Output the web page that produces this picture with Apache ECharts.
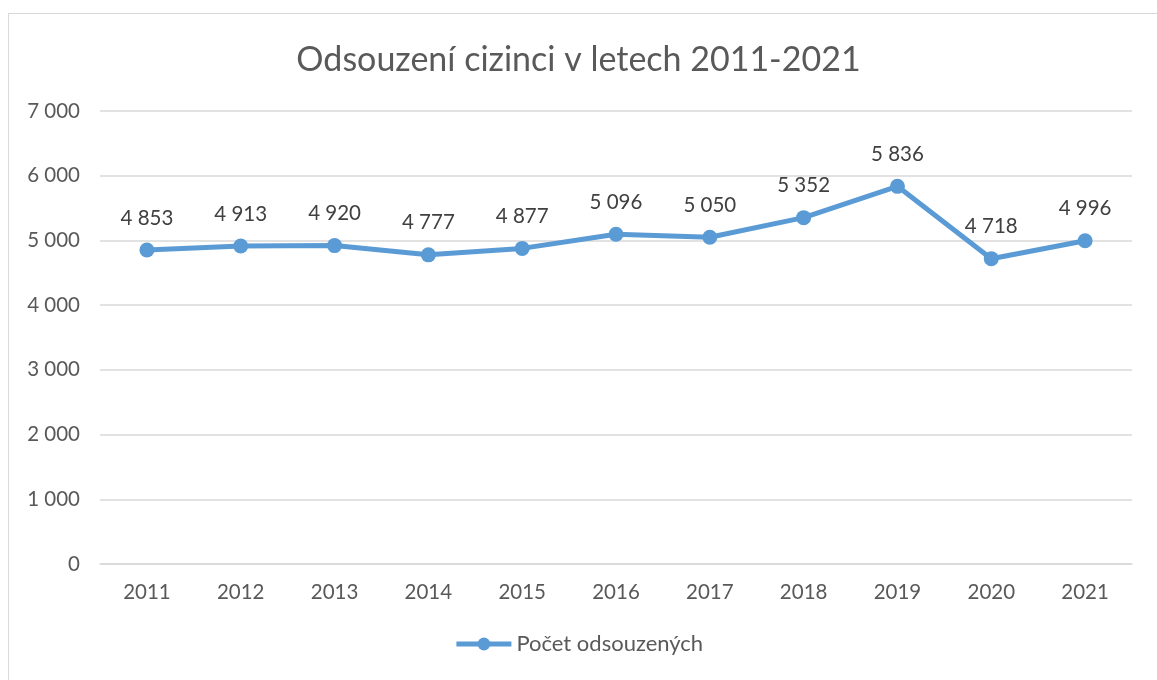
<!DOCTYPE html>
<html lang="cs">
<head>
    <meta charset="UTF-8">
    <title>Odsouzení cizinci</title>
    <style>
        *{
            margin: 0;
            padding: 0;
        }
        body{
            background: #FFFFFF;
        }
        #frame{
            position: absolute;
            left: 8px;
            top: 13px;
            width: 1200px;
            height: 720px;
            border: 1px solid #D9D9D9;
        }
        #main{
            position: absolute;
            left: 0;
            top: 0;
            width: 1157px;
            height: 680px;
        }
    </style>
</head>
<body>
<div id="frame"></div>
<div id="main"></div>

<script src="https://cdn.jsdelivr.net/npm/echarts@6/dist/echarts.min.js"></script>
<script>
    const years = ['2011', '2012', '2013', '2014', '2015', '2016', '2017', '2018', '2019', '2020', '2021'];
    const convicted = [4853, 4913, 4920, 4777, 4877, 5096, 5050, 5352, 5836, 4718, 4996];
    const seriesName = 'Počet odsouzených';

    // mezera jako oddělovač tisíců
    function fmt(v){
        return String(v).replace(/\B(?=(\d{3})+(?!\d))/g, ' ');
    }

    let myChart = echarts.init(document.getElementById('main'));
    myChart.setOption({
        animation: false,
        textStyle: {
            fontFamily: 'Lato, "Open Sans", sans-serif'
        },
        title: {
            text: 'Odsouzení cizinci v letech 2011-2021',
            left: 'center',
            top: 38,
            textStyle: {
                fontSize: 34,
                fontWeight: 'normal',
                color: '#595959'
            }
        },
        legend: {
            data: [seriesName],
            bottom: 20,
            left: 'center',
            itemWidth: 55,
            itemHeight: 16,
            itemGap: 4,
            lineStyle: {width: 5},
            textStyle: {
                fontSize: 22,
                color: '#595959'
            }
        },
        grid: {
            left: 100,
            right: 25,
            top: 111,
            bottom: 116
        },
        xAxis: {
            type: 'category',
            data: years,
            boundaryGap: true,
            axisLine: {
                lineStyle: {color: '#D9D9D9', width: 1.5}
            },
            axisTick: {show: false},
            axisLabel: {
                fontSize: 20.5,
                color: '#595959',
                margin: 18
            }
        },
        yAxis: {
            type: 'value',
            min: 0,
            max: 7000,
            interval: 1000,
            axisLine: {show: false},
            axisTick: {show: false},
            axisLabel: {
                fontSize: 20.5,
                color: '#595959',
                margin: 20,
                formatter: fmt
            },
            splitLine: {
                lineStyle: {color: '#D9D9D9', width: 1.5}
            }
        },
        series: [{
            name: seriesName,
            type: 'line',
            data: convicted,
            symbol: 'circle',
            symbolSize: 15,
            lineStyle: {color: '#5B9BD5', width: 5},
            itemStyle: {color: '#5B9BD5'},
            label: {
                show: true,
                position: 'top',
                distance: 14,
                fontSize: 20.5,
                color: '#404040',
                formatter: function(p){ return fmt(p.value); }
            }
        }]
    });
</script>
</body>
</html>
